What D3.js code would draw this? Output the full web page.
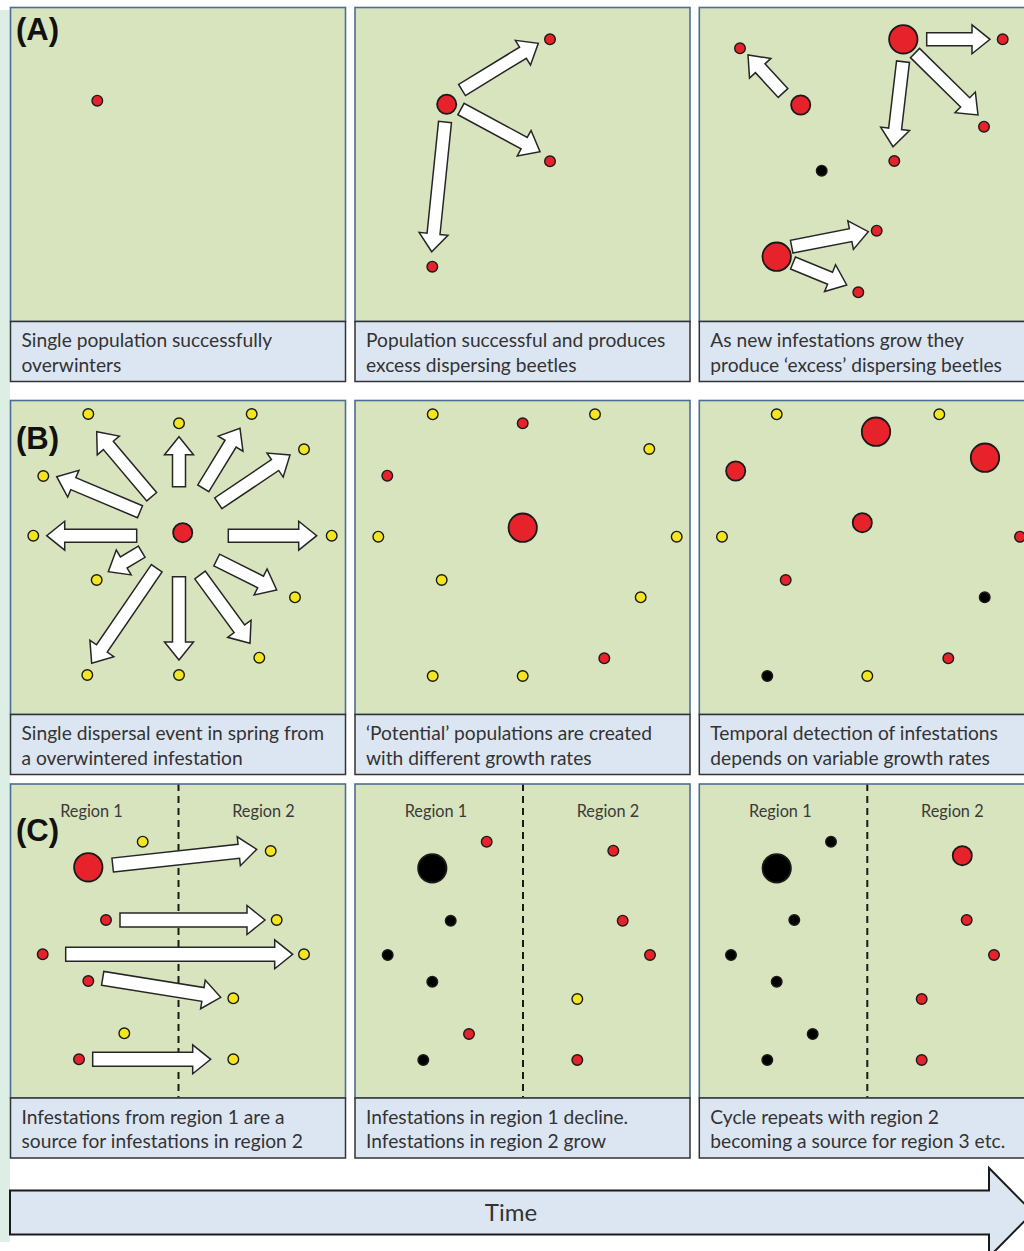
<!DOCTYPE html>
<html><head><meta charset="utf-8">
<script src="https://cdn.jsdelivr.net/npm/d3@7"></script>
<style>html,body{margin:0;padding:0;background:#fff;overflow:hidden}</style>
</head><body><svg id="chart" width="1024" height="1251"></svg>
<script>
// ---------------- DATA ----------------
const rowLabels = ['(A)', '(B)', '(C)'];
const regionLabels = ['Region 1', 'Region 2'];
const timeLabel = 'Time';
const captions = [
  ['Single population successfully', 'overwinters'],
  ['Population successful and produces', 'excess dispersing beetles'],
  ['As new infestations grow they', 'produce \u2018excess\u2019 dispersing beetles'],
  ['Single dispersal event in spring from', 'a overwintered infestation'],
  ['\u2018Potential\u2019 populations are created', 'with different growth rates'],
  ['Temporal detection of infestations', 'depends on variable growth rates'],
  ['Infestations from region 1 are a', 'source for infestations in region 2'],
  ['Infestations in region 1 decline.', 'Infestations in region 2 grow'],
  ['Cycle repeats with region 2', 'becoming a source for region 3 etc.']
];

// dots: panel-local coordinates, kind = status, size = population size class (1 small, 2 medium, 3 large)
const dotsA1 = [{x:86.8,y:93.2,kind:'red',size:1}];
const dotsA2 = [
  {x:91.7,y:96.8,kind:'red',size:2},{x:195,y:31.8,kind:'red',size:1},
  {x:195,y:153.8,kind:'red',size:1},{x:77.3,y:259.2,kind:'red',size:1}
];
const dotsA3 = [
  {x:40.7,y:40.8,kind:'red',size:1},{x:101.4,y:97.5,kind:'red',size:2},
  {x:204,y:31.8,kind:'red',size:3},{x:303.4,y:31.8,kind:'red',size:1},
  {x:284.7,y:119.2,kind:'red',size:1},{x:195,y:153.5,kind:'red',size:1},
  {x:122.4,y:163.2,kind:'black',size:1},{x:77.4,y:249.2,kind:'red',size:3},
  {x:177.4,y:223.2,kind:'red',size:1},{x:159,y:284.8,kind:'red',size:1}
];
const dotsB1 = [
  {x:172.2,y:132.2,kind:'red',size:2},
  {x:77.8,y:13.5,kind:'yellow',size:1},{x:168.5,y:22.8,kind:'yellow',size:1},
  {x:241.2,y:13.5,kind:'yellow',size:1},{x:293.5,y:48.8,kind:'yellow',size:1},
  {x:32.8,y:75.5,kind:'yellow',size:1},{x:22.8,y:135.2,kind:'yellow',size:1},
  {x:321.2,y:135.2,kind:'yellow',size:1},{x:86.2,y:179.5,kind:'yellow',size:1},
  {x:284.5,y:196.8,kind:'yellow',size:1},{x:248.8,y:257.2,kind:'yellow',size:1},
  {x:76.8,y:274.5,kind:'yellow',size:1},{x:168.5,y:274.5,kind:'yellow',size:1}
];
const dotsB2 = [
  {x:77.7,y:13.8,kind:'yellow',size:1},{x:167.7,y:22.8,kind:'red',size:1},
  {x:240,y:13.8,kind:'yellow',size:1},{x:294.3,y:48.5,kind:'yellow',size:1},
  {x:32.3,y:75.2,kind:'red',size:1},{x:167.7,y:127.2,kind:'red',size:3},
  {x:23.3,y:136.2,kind:'yellow',size:1},{x:321.7,y:136.2,kind:'yellow',size:1},
  {x:86.7,y:179.5,kind:'yellow',size:1},{x:285.7,y:196.8,kind:'yellow',size:1},
  {x:249.3,y:257.8,kind:'red',size:1},{x:77.7,y:275.5,kind:'yellow',size:1},
  {x:167.7,y:275.5,kind:'yellow',size:1}
];
const dotsB3 = [
  {x:77.4,y:13.8,kind:'yellow',size:1},{x:176.7,y:31.2,kind:'red',size:3},
  {x:240,y:13.8,kind:'yellow',size:1},{x:285.7,y:57.2,kind:'red',size:3},
  {x:36.4,y:70.5,kind:'red',size:2},{x:163,y:122.2,kind:'red',size:2},
  {x:22.7,y:136.2,kind:'yellow',size:1},{x:320.7,y:136.2,kind:'red',size:1},
  {x:86.4,y:179.5,kind:'red',size:1},{x:285.4,y:196.8,kind:'black',size:1},
  {x:249,y:257.8,kind:'red',size:1},{x:68,y:275.5,kind:'black',size:1},
  {x:168,y:275.5,kind:'yellow',size:1}
];
const dotsC1 = [
  {x:132.2,y:57.7,kind:'yellow',size:1},{x:77.8,y:83.3,kind:'red',size:3},
  {x:260.2,y:67,kind:'yellow',size:1},{x:95.5,y:136,kind:'red',size:1},
  {x:266.2,y:136,kind:'yellow',size:1},{x:32.2,y:170.3,kind:'red',size:1},
  {x:293.5,y:170.3,kind:'yellow',size:1},{x:77.8,y:197,kind:'red',size:1},
  {x:222.8,y:214.3,kind:'yellow',size:1},{x:113.8,y:249.3,kind:'yellow',size:1},
  {x:68.5,y:275.3,kind:'red',size:1},{x:222.8,y:275.3,kind:'yellow',size:1}
];
const dotsC2 = [
  {x:131.7,y:57.7,kind:'red',size:1},{x:77.3,y:84.3,kind:'black',size:3},
  {x:258.3,y:66.7,kind:'red',size:1},{x:95.7,y:136.7,kind:'black',size:1},
  {x:267.7,y:136.7,kind:'red',size:1},{x:32.7,y:171,kind:'black',size:1},
  {x:295,y:171,kind:'red',size:1},{x:77.3,y:197.7,kind:'black',size:1},
  {x:222.3,y:215,kind:'yellow',size:1},{x:114,y:250,kind:'red',size:1},
  {x:68.3,y:276,kind:'black',size:1},{x:222.3,y:276,kind:'red',size:1}
];
const dotsC3 = [
  {x:131.7,y:57.7,kind:'black',size:1},{x:77.4,y:84.3,kind:'black',size:3},
  {x:263,y:71.7,kind:'red',size:2},{x:95,y:136,kind:'black',size:1},
  {x:267.4,y:136,kind:'red',size:1},{x:31.7,y:171,kind:'black',size:1},
  {x:294.7,y:171,kind:'red',size:1},{x:77.4,y:197.7,kind:'black',size:1},
  {x:222.4,y:215,kind:'red',size:1},{x:113.4,y:250,kind:'black',size:1},
  {x:68,y:276,kind:'black',size:1},{x:222.4,y:276,kind:'red',size:1}
];

// dispersal arrows: from (x1,y1) to tip (x2,y2), panel-local
const arrowsA1 = [];
const arrowsA2 = [
  {x1:107,y1:82.5,x2:183.3,y2:35.8},
  {x1:106,y1:101.5,x2:185,y2:144.2},
  {x1:90,y1:114.5,x2:76.7,y2:244.2}
];
const arrowsA3 = [
  {x1:83.7,y1:85.5,x2:48.7,y2:47.5},
  {x1:227.4,y1:31.8,x2:290.7,y2:31.8},
  {x1:215.7,y1:45.5,x2:278.7,y2:107.5},
  {x1:203.7,y1:54.2,x2:193.7,y2:139.2},
  {x1:92.4,y1:239.2,x2:169,y2:224.2},
  {x1:93.7,y1:255.5,x2:147.4,y2:277.5}
];
const arrowsB1 = [
  {x1:168.5,y1:86.2,x2:168.5,y2:36.2},
  {x1:141.2,y1:96.2,x2:86.2,y2:31.2},
  {x1:192.8,y1:87.8,x2:229.5,y2:27.8},
  {x1:207.8,y1:102.8,x2:279.5,y2:54.5},
  {x1:129.5,y1:111.2,x2:46.2,y2:76.2},
  {x1:126.2,y1:135.2,x2:36.2,y2:135.2},
  {x1:217.8,y1:135.2,x2:306.2,y2:135.2},
  {x1:131.2,y1:151.2,x2:97.8,y2:171.2},
  {x1:206.2,y1:159.5,x2:266.2,y2:189.5},
  {x1:168.5,y1:176.2,x2:168.5,y2:259.5},
  {x1:146.2,y1:167.8,x2:81.2,y2:262.8},
  {x1:189.5,y1:174.5,x2:239.5,y2:242.8}
];
const arrowsB2 = [];
const arrowsB3 = [];
const arrowsC1 = [
  {x1:102.2,y1:81,x2:246.2,y2:65.3},
  {x1:109.5,y1:136,x2:254.5,y2:136},
  {x1:55.2,y1:170.3,x2:282.2,y2:170.3},
  {x1:92.2,y1:194.3,x2:210.2,y2:213.3},
  {x1:82.2,y1:275.3,x2:200.2,y2:275.3}
];
const arrowsC2 = [];
const arrowsC3 = [];

const panelDots = [dotsA1, dotsA2, dotsA3, dotsB1, dotsB2, dotsB3, dotsC1, dotsC2, dotsC3];
const panelArrows = [arrowsA1, arrowsA2, arrowsA3, arrowsB1, arrowsB2, arrowsB3, arrowsC1, arrowsC2, arrowsC3];

// ---------------- LAYOUT / STYLE ----------------
const colX = [10.5, 355, 699.3];
const rowY = [7.5, 400.5, 784];
const PW = 335, PH = 314, CH = 60;
const GREEN = '#d7e4bd', CAPTION = '#dce6f2';
const TEXT_FONT = 'Lato, "Open Sans", sans-serif';

const color = d3.scaleOrdinal().domain(['red', 'yellow', 'black']).range(['#e8222b', '#f3e51f', '#000000']);
const radius = d3.scaleOrdinal().domain([1, 2, 3]).range([5.3, 9.6, 14.2]);

const svg = d3.select('#chart');

// left mint strip
svg.append('rect').attr('x', 0).attr('y', 10).attr('width', 10).attr('height', 1232).attr('fill', '#ddefe5');

const defs = svg.append('defs');

function arrowPath(x1, y1, x2, y2, sw, hw, hl) {
  const dx = x2 - x1, dy = y2 - y1, L = Math.hypot(dx, dy);
  const ux = dx / L, uy = dy / L, nx = -uy, ny = ux;
  const bx = x2 - ux * hl, by = y2 - uy * hl;
  const p = [
    [x1 + nx * sw / 2, y1 + ny * sw / 2],
    [bx + nx * sw / 2, by + ny * sw / 2],
    [bx + nx * hw / 2, by + ny * hw / 2],
    [x2, y2],
    [bx - nx * hw / 2, by - ny * hw / 2],
    [bx - nx * sw / 2, by - ny * sw / 2],
    [x1 - nx * sw / 2, y1 - ny * sw / 2]
  ];
  return 'M' + p.map(d => d.join(',')).join('L') + 'Z';
}

for (let r = 0; r < 3; r++) {
  for (let c = 0; c < 3; c++) {
    const i = r * 3 + c;
    const x = d3.scaleLinear().domain([0, PW]).range([colX[c], colX[c] + PW]);
    const y = d3.scaleLinear().domain([0, PH]).range([rowY[r], rowY[r] + PH]);
    const g = svg.append('g');
    const clipId = 'clip' + i;
    defs.append('clipPath').attr('id', clipId).append('rect')
      .attr('x', x(0)).attr('y', y(0)).attr('width', PW).attr('height', PH);

    g.append('rect').attr('x', x(0)).attr('y', y(0)).attr('width', PW).attr('height', PH)
      .attr('fill', GREEN);

    const inner = g.append('g').attr('clip-path', `url(#${clipId})`);

    if (r === 2) {
      inner.append('line').attr('x1', x(168)).attr('x2', x(168)).attr('y1', y(0)).attr('y2', y(PH))
        .attr('stroke', '#1a1a1a').attr('stroke-width', 2).attr('stroke-dasharray', '7,5');
      inner.selectAll('text.region').data(regionLabels).join('text')
        .attr('class', 'region')
        .attr('x', (d, k) => x(k === 0 ? 81 : 253)).attr('y', y(32.5))
        .attr('text-anchor', 'middle').attr('font-family', TEXT_FONT).attr('font-size', 16.3)
        .attr('fill', '#3a3a3a').text(d => d);
    }

    inner.selectAll('path.arrow').data(panelArrows[i]).join('path')
      .attr('class', 'arrow')
      .attr('d', d => arrowPath(x(d.x1), y(d.y1), x(d.x2), y(d.y2), r === 2 ? 14 : 13, 29, 18))
      .attr('fill', '#ffffff').attr('stroke', '#262626').attr('stroke-width', 1.5)
      .attr('stroke-linejoin', 'miter');

    inner.selectAll('circle').data(panelDots[i]).join('circle')
      .attr('cx', d => x(d.x)).attr('cy', d => y(d.y))
      .attr('r', d => radius(d.size))
      .attr('fill', d => color(d.kind))
      .attr('stroke', '#1a1a1a').attr('stroke-width', d => d.size === 1 ? 1.4 : 1.8);

    // panel border
    g.append('rect').attr('x', x(0)).attr('y', y(0)).attr('width', PW).attr('height', PH)
      .attr('fill', 'none').attr('stroke', '#4c6e96').attr('stroke-width', 1.6);

    // caption box
    g.append('rect').attr('x', x(0)).attr('y', y(PH)).attr('width', PW).attr('height', CH)
      .attr('fill', CAPTION).attr('stroke', '#333333').attr('stroke-width', 1.5);
    g.selectAll('text.cap').data(captions[i]).join('text')
      .attr('class', 'cap')
      .attr('x', x(0) + 11).attr('y', (d, k) => y(PH) + 25.5 + k * 24.5)
      .attr('font-family', TEXT_FONT).attr('font-size', 19.2).attr('fill', '#333333')
      .text(d => d);

    if (c === 0) {
      g.append('text').attr('x', x(0) + 5.5).attr('y', y(0) + (r === 0 ? 32 : r === 1 ? 48 : 56.5))
        .attr('font-family', '"Liberation Sans", Arial, sans-serif').attr('font-weight', 'bold')
        .attr('font-size', 31).attr('fill', '#111').text(rowLabels[r]);
    }
  }
}

// time arrow
const tx = d3.scaleLinear().domain([0, 1]).range([10, 1033]);
const headStart = 989, bodyTop = 1190.5, bodyBot = 1234.5, headTop = 1168, headBot = 1257, mid = 1212.5;
svg.append('path')
  .attr('d', `M${tx(0)},${bodyTop}L${headStart},${bodyTop}L${headStart},${headTop}L${tx(1)},${mid}L${headStart},${headBot}L${headStart},${bodyBot}L${tx(0)},${bodyBot}Z`)
  .attr('fill', CAPTION).attr('stroke', '#1a1a1a').attr('stroke-width', 2);
svg.append('text').attr('x', 511).attr('y', 1221).attr('text-anchor', 'middle')
  .attr('font-family', TEXT_FONT).attr('font-size', 24).attr('fill', '#333').text(timeLabel);
</script></body></html>
